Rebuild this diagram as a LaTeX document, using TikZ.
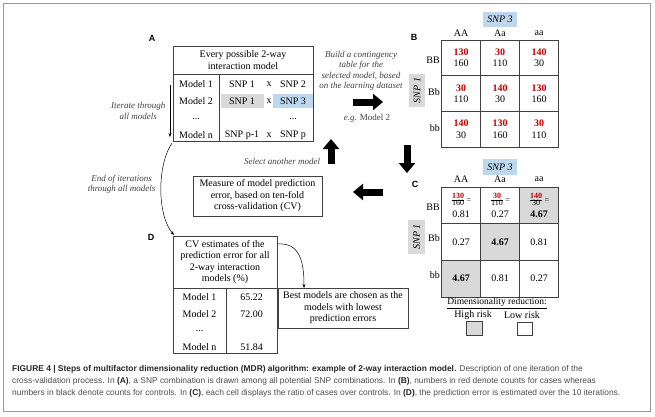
\documentclass[tikz,border=0pt]{standalone}
\usepackage{fontspec}
\setmainfont{Liberation Serif}
\setsansfont{Liberation Sans}
\newfontfamily\capfont{Liberation Sans}
\usepackage{xcolor}
\definecolor{Cell Gray}{HTML}{D9D9D9}
\definecolor{Sky Blue}{HTML}{BDD7EE}
\definecolor{Case Red}{HTML}{C00000}
\colorlet{cGray}{Cell Gray}
\colorlet{cBlue}{Sky Blue}
\colorlet{cRed}{Case Red}
\usetikzlibrary{calc, positioning, arrows.meta}
\newcommand{\cellratio}[3]{{\fontsize{8}{9}\selectfont$\frac{\mbox{\textcolor{cRed}{\bfseries #1}}}{\mbox{#2}}$\,=}\\[3.5pt]#3}
\newcommand{\skiprow}{...}
\tikzset{
	font = \fontsize{10}{11.5}\selectfont,
	box/.style={
		draw=black!75,
		line width=.8pt,
		inner sep=0pt
	},
	grid/.style={
		draw=black!75,
		line width=.8pt
	},
	cell/.style={
		box,
		minimum width=39pt,
		align=center
	},
	note/.style={
		font=\fontsize{9}{10.5}\selectfont\itshape,
		text=black!75,
		align=center
	},
	panel/.style={
		font=\sffamily\bfseries\fontsize{9}{10}\selectfont
	},
	snp/.style={
		fill=#1,
		font=\fontsize{10}{11}\selectfont\itshape,
		inner sep=0pt
	},
	big arrow/.style={
		line width=7pt,
		-{Triangle[length=10pt,width=16pt]}
	},
	thin arrow/.style={
		line width=.5pt,
		-{Stealth[length=4pt,width=3pt]}
	},
	caption/.style={
		anchor=west,
		inner sep=0pt,
		text=black!70,
		font=\capfont\fontsize{8.4}{10}\selectfont
	}
}

\begin{document}
\begin{tikzpicture}[x=1pt, y=-1pt]
	\useasboundingbox (0,0) rectangle (655,416);
	\draw[black!40, line width=.8pt] (3,3) rectangle (650,411);

	% A: all 2-way models
	\node[panel] (labA) at (152,38) {A};
	\fill[cGray] (221,94) rectangle (264,108);
	\fill[cBlue] (273,94) rectangle (313,108);
	\node[box, minimum width=140pt, minimum height=95pt] (tabA) at (243,93.5) {};
	\draw[grid] (173,74) -- (313,74);
	\draw[grid] (219,74) -- (219,141);
	\node[align=center] (headA) at (243,60) {Every possible 2-way\\interaction model};
	\foreach \m/\p/\s/\q/\y [count=\i] in {Model 1/SNP 1/x/SNP 2/84, Model 2/SNP 1/x/SNP 3/101, \skiprow/{}/{}/\skiprow/119, Model n/SNP p-1/x/SNP p/135} {
		\node (am\i) at (196,\y) {\m};
		\node (ap\i) at (242,\y) {\p};
		\node (ax\i) at (269,\y) {\s};
		\node (aq\i) at (293,\y) {\q};
	}
	\coordinate (it1) at (170,85);
	\coordinate (it2) at (170,137);
	\draw[thin arrow] (it1) -- (it2) node[note, midway, left=1pt] {Iterate through\\all models};

	% B: contingency table
	\node[panel] (labB) at (414,37) {B};
	\node[snp=cBlue, minimum width=34pt, minimum height=15pt] (snpB3) at (500,19.5) {SNP 3};
	\node[snp=cGray, rotate=90, minimum width=33pt, minimum height=16pt] (snpB1) at (417,90.5) {SNP 1};
	\foreach \g [count=\c] in {AA,Aa,aa}
		\node (bh\c) at (422+39*\c,33) {\g};
	\foreach \g/\y [count=\r] in {BB/60,Bb/92,bb/128}
		\node[anchor=east, inner sep=1pt] (br\r) at (441,\y) {\g};
	\foreach \row [count=\r] in {{130/160,30/110,140/30},{30/110,140/30,130/160},{140/30,130/160,30/110}}
		\foreach \ca/\co [count=\c] in \row
			\node[cell, minimum height=35.67pt] (b\r\c) at (422+39*\c,22.17+35.67*\r) {\textcolor{cRed}{\textbf{\ca}}\\\co};

	% C: ratios
	\node[panel] (labC) at (415,184) {C};
	\node[snp=cBlue, minimum width=34pt, minimum height=16pt] (snpC3) at (500,167) {SNP 3};
	\node[snp=cGray, rotate=90, minimum width=34pt, minimum height=17pt] (snpC1) at (416.5,237) {SNP 1};
	\foreach \g [count=\c] in {AA,Aa,aa}
		\node (ch\c) at (422+39*\c,179) {\g};
	\foreach \g/\y [count=\r] in {BB/207,Bb/238,bb/275}
		\node[anchor=east, inner sep=1pt] (cr\r) at (441,\y) {\g};
	\foreach \row [count=\r] in {
			{\cellratio{130}{160}{0.81}/white, \cellratio{30}{110}{0.27}/white, \cellratio{140}{30}{\textbf{4.67}}/cGray},
			{0.27/white, \textbf{4.67}/cGray, 0.81/white},
			{\textbf{4.67}/cGray, 0.81/white, 0.27/white}}
		\foreach \v/\f [count=\c] in \row
			\node[cell, fill=\f, minimum height=36.67pt] (c\r\c) at (422+39*\c,168.67+36.67*\r) {\v};
	\node[inner sep=0pt, font=\fontsize{9.5}{11}\selectfont] (leg) at (497,303) {\underline{Dimensionality reduction:}};
	\node[inner sep=0pt] (hiT) at (473,315) {High risk};
	\node[inner sep=0pt] (loT) at (522,315) {Low risk};
	\node[box, fill=cGray, minimum width=16pt, minimum height=14pt] (hiK) at (474,328) {};
	\node[box, fill=white, minimum width=15pt, minimum height=13pt] (loK) at (524.5,328.5) {};

	% CV step
	\node[box, align=center, minimum width=129pt, minimum height=40pt] (cv) at (257.5,196) {Measure of model prediction\\error, based on ten-fold\\cross-validation (CV)};
	\node[note] (sel) at (282,161) {Select another model};
	\node[note] (build) at (361,71) {Build a contingency\\table for the\\selected model, based\\on the learning dataset};
	\node[note] (eg) at (367,118) {e.g. \upshape Model 2};

	\coordinate (r1) at (353,102);
	\coordinate (r2) at (383,102);
	\coordinate (d1) at (407,145);
	\coordinate (d2) at (407,173);
	\coordinate (l1) at (383,192);
	\coordinate (l2) at (353,192);
	\coordinate (u1) at (331,164);
	\coordinate (u2) at (331,139);
	\draw[big arrow] (r1) -- (r2);
	\draw[big arrow] (d1) -- (d2);
	\draw[big arrow] (l1) -- (l2);
	\draw[big arrow] (u1) -- (u2);

	% D: CV estimates
	\node[panel] (labD) at (151,237) {D};
	\node[box, minimum width=104pt, minimum height=117pt] (tabD) at (225,294.5) {};
	\draw[grid] (173,288) -- (277,288);
	\draw[grid] (226,288) -- (226,353);
	\node[align=center] (headD) at (225,262) {CV estimates of the\\prediction error for all\\2-way interaction\\models (\%)};
	\foreach \m/\v/\y [count=\i] in {Model 1/65.22/297, Model 2/72.00/314, \skiprow/{}/331, Model n/51.84/347} {
		\node (dm\i) at (199.5,\y) {\m};
		\node (dv\i) at (251.5,\y) {\v};
	}
	\node[box, align=center, minimum width=130pt, minimum height=40pt] (best) at (343,308) {Best models are chosen as the\\models with lowest\\prediction errors};

	\coordinate (aOut) at (172,143);
	\coordinate (dIn) at (174,235);
	\draw[thin arrow] (aOut) .. controls (157,165) and (157,215) .. (dIn)
		node[note, pos=.45, left=2pt] {End of iterations\\through all models};
	\coordinate (dOut) at (277,244);
	\coordinate (bestIn) at (304,288);
	\draw[thin arrow] (dOut) .. controls (300,242) and (304,262) .. (bestIn);

	% caption
	\node[caption] (cap1) at (12,369) {{\bfseries\color{black!85}FIGURE 4 | Steps of multifactor dimensionality reduction (MDR) algorithm: example of 2-way interaction model.} Description of one iteration of the};
	\node[caption] (cap2) at (12,381) {cross-validation process. In {\bfseries\color{black!85}(A)}, a SNP combination is drawn among all potential SNP combinations. In {\bfseries\color{black!85}(B)}, numbers in red denote counts for cases whereas};
	\node[caption] (cap3) at (12,393) {numbers in black denote counts for controls. In {\bfseries\color{black!85}(C)}, each cell displays the ratio of cases over controls. In {\bfseries\color{black!85}(D)}, the prediction error is estimated over the 10 iterations.};
\end{tikzpicture}
\end{document}
